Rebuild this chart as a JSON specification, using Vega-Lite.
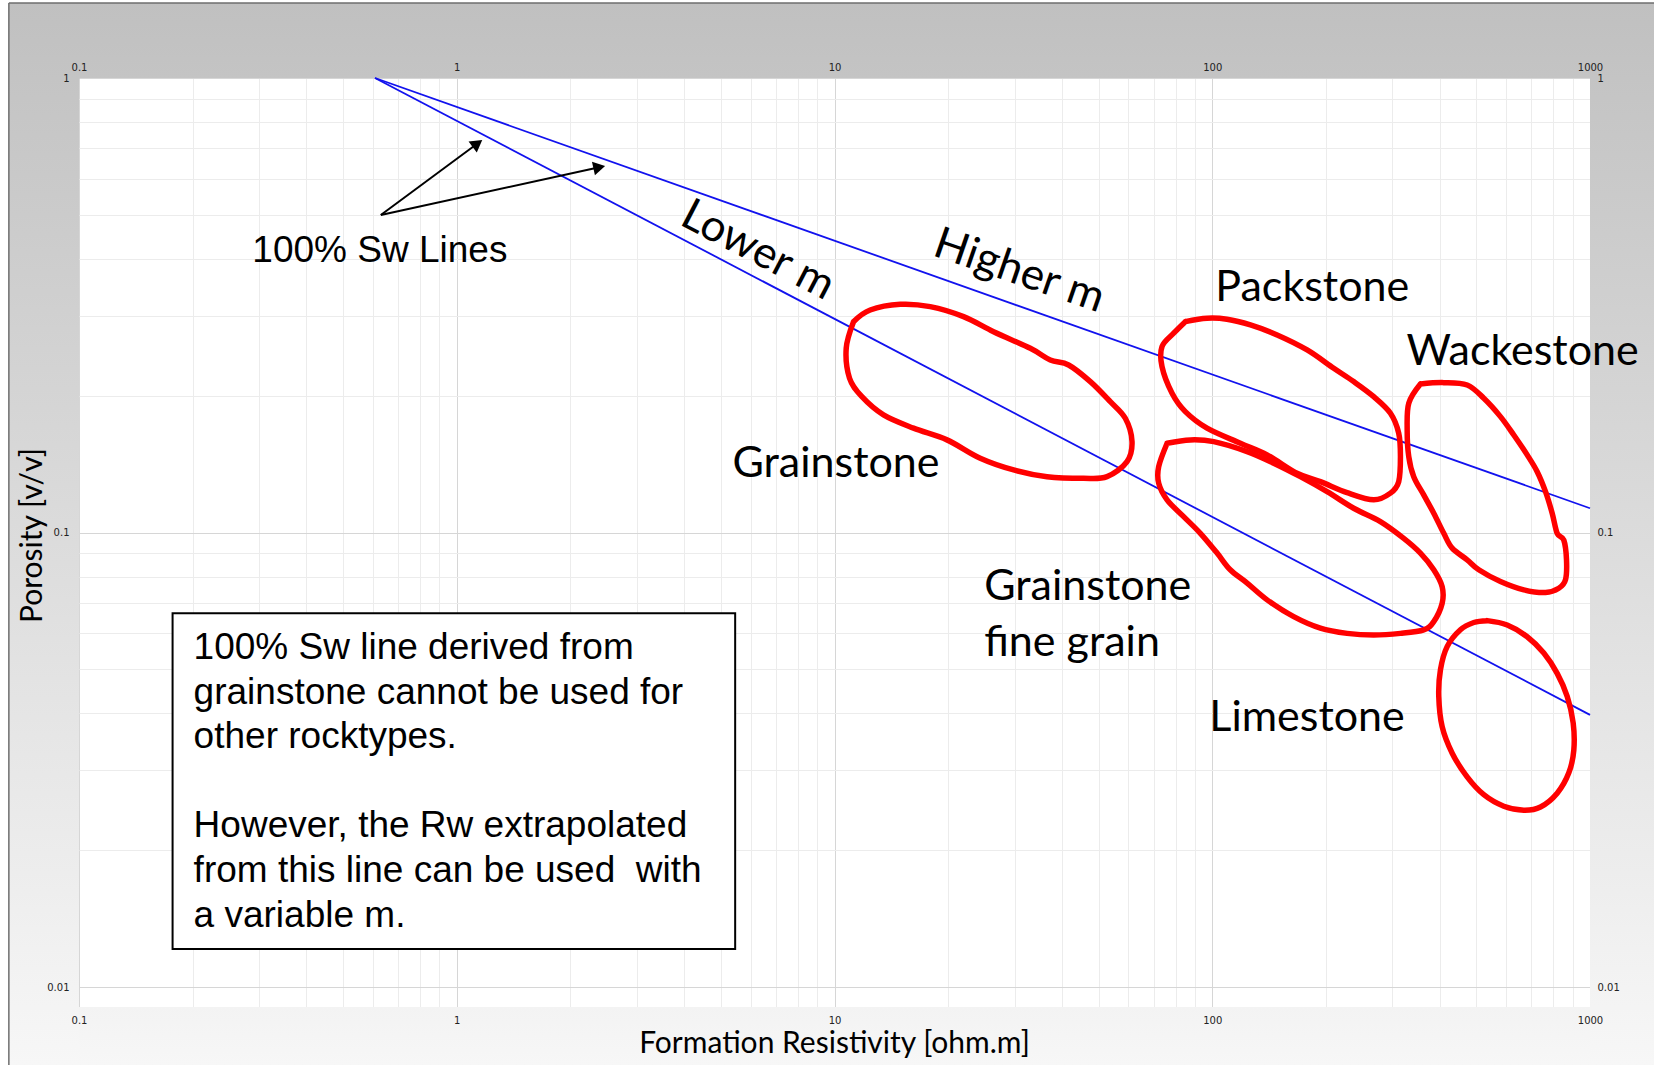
{
  "$schema": "https://vega.github.io/schema/vega-lite/v6.json",
  "width": 1511,
  "height": 929,
  "autosize": {"type": "none"},
  "padding": {"left": 79, "top": 78, "right": 64, "bottom": 58},
  "background": "#ffffff",
  "config": {"view": {"stroke": "#7f7f7f", "strokeWidth": 1, "fill": "white"}},
  "datasets": {
    "frame": [{"part": "frame"}],
    "swlines": [
      {"line": "lower", "r": 0.6075, "phi": 1},
      {"line": "lower", "r": 1000, "phi": 0.0397},
      {"line": "higher", "r": 0.6075, "phi": 1},
      {"line": "higher", "r": 1000, "phi": 0.1131}
    ],
    "curves": [
      {"shape": "G", "i": 1, "r": 11.23, "phi": 0.2910},
      {"shape": "G", "i": 2, "r": 12.43, "phi": 0.3088},
      {"shape": "G", "i": 3, "r": 14.93, "phi": 0.3178},
      {"shape": "G", "i": 4, "r": 17.92, "phi": 0.3140},
      {"shape": "G", "i": 5, "r": 21.96, "phi": 0.2985},
      {"shape": "G", "i": 6, "r": 26.37, "phi": 0.2766},
      {"shape": "G", "i": 7, "r": 32.99, "phi": 0.2543},
      {"shape": "G", "i": 8, "r": 37.26, "phi": 0.2397},
      {"shape": "G", "i": 9, "r": 41.66, "phi": 0.2337},
      {"shape": "G", "i": 10, "r": 47.56, "phi": 0.2148},
      {"shape": "G", "i": 11, "r": 53.72, "phi": 0.1941},
      {"shape": "G", "i": 12, "r": 58.87, "phi": 0.1784},
      {"shape": "G", "i": 13, "r": 61.32, "phi": 0.1585},
      {"shape": "G", "i": 14, "r": 59.48, "phi": 0.1432},
      {"shape": "G", "i": 15, "r": 52.65, "phi": 0.1327},
      {"shape": "G", "i": 16, "r": 45.64, "phi": 0.1316},
      {"shape": "G", "i": 17, "r": 36.52, "phi": 0.1327},
      {"shape": "G", "i": 18, "r": 29.80, "phi": 0.1373},
      {"shape": "G", "i": 19, "r": 24.31, "phi": 0.1457},
      {"shape": "G", "i": 20, "r": 19.85, "phi": 0.1599},
      {"shape": "G", "i": 21, "r": 16.19, "phi": 0.1697},
      {"shape": "G", "i": 22, "r": 13.48, "phi": 0.1815},
      {"shape": "G", "i": 23, "r": 11.82, "phi": 0.1990},
      {"shape": "G", "i": 24, "r": 10.96, "phi": 0.2185},
      {"shape": "G", "i": 25, "r": 10.74, "phi": 0.2543},
      {"shape": "G", "i": 26, "r": 11.23, "phi": 0.2910},
      {"shape": "P", "i": 1, "r": 84.87, "phi": 0.2910},
      {"shape": "P", "i": 2, "r": 96.87, "phi": 0.2961},
      {"shape": "P", "i": 3, "r": 109.4, "phi": 0.2946},
      {"shape": "P", "i": 4, "r": 126.2, "phi": 0.2862},
      {"shape": "P", "i": 5, "r": 148.5, "phi": 0.2721},
      {"shape": "P", "i": 6, "r": 178.3, "phi": 0.2522},
      {"shape": "P", "i": 7, "r": 209.7, "phi": 0.2298},
      {"shape": "P", "i": 8, "r": 236.8, "phi": 0.2148},
      {"shape": "P", "i": 9, "r": 267.6, "phi": 0.1990},
      {"shape": "P", "i": 10, "r": 296.3, "phi": 0.1830},
      {"shape": "P", "i": 11, "r": 311.6, "phi": 0.1654},
      {"shape": "P", "i": 12, "r": 314.9, "phi": 0.1469},
      {"shape": "P", "i": 13, "r": 311.6, "phi": 0.1294},
      {"shape": "P", "i": 14, "r": 296.3, "phi": 0.1221},
      {"shape": "P", "i": 15, "r": 267.6, "phi": 0.1180},
      {"shape": "P", "i": 16, "r": 227.5, "phi": 0.1224},
      {"shape": "P", "i": 17, "r": 193.3, "phi": 0.1294},
      {"shape": "P", "i": 18, "r": 167.7, "phi": 0.1350},
      {"shape": "P", "i": 19, "r": 139.7, "phi": 0.1482},
      {"shape": "P", "i": 20, "r": 118.7, "phi": 0.1572},
      {"shape": "P", "i": 21, "r": 96.87, "phi": 0.1697},
      {"shape": "P", "i": 22, "r": 84.87, "phi": 0.1845},
      {"shape": "P", "i": 23, "r": 78.27, "phi": 0.2025},
      {"shape": "P", "i": 24, "r": 73.62, "phi": 0.2317},
      {"shape": "P", "i": 25, "r": 73.62, "phi": 0.2564},
      {"shape": "P", "i": 26, "r": 79.05, "phi": 0.2745},
      {"shape": "P", "i": 27, "r": 84.87, "phi": 0.2910},
      {"shape": "F", "i": 1, "r": 75.93, "phi": 0.1572},
      {"shape": "F", "i": 2, "r": 87.50, "phi": 0.1599},
      {"shape": "F", "i": 3, "r": 100.9, "phi": 0.1585},
      {"shape": "F", "i": 4, "r": 123.7, "phi": 0.1507},
      {"shape": "F", "i": 5, "r": 145.4, "phi": 0.1421},
      {"shape": "F", "i": 6, "r": 171.1, "phi": 0.1327},
      {"shape": "F", "i": 7, "r": 201.4, "phi": 0.1230},
      {"shape": "F", "i": 8, "r": 236.8, "phi": 0.1131},
      {"shape": "F", "i": 9, "r": 278.7, "phi": 0.1057},
      {"shape": "F", "i": 10, "r": 321.3, "phi": 0.0971},
      {"shape": "F", "i": 11, "r": 355.7, "phi": 0.0901},
      {"shape": "F", "i": 12, "r": 385.8, "phi": 0.0828},
      {"shape": "F", "i": 13, "r": 406.1, "phi": 0.0760},
      {"shape": "F", "i": 14, "r": 406.1, "phi": 0.0699},
      {"shape": "F", "i": 15, "r": 385.8, "phi": 0.0637},
      {"shape": "F", "i": 16, "r": 362.9, "phi": 0.0611},
      {"shape": "F", "i": 17, "r": 314.9, "phi": 0.0600},
      {"shape": "F", "i": 18, "r": 267.6, "phi": 0.0595},
      {"shape": "F", "i": 19, "r": 227.5, "phi": 0.0600},
      {"shape": "F", "i": 20, "r": 193.3, "phi": 0.0616},
      {"shape": "F", "i": 21, "r": 164.3, "phi": 0.0653},
      {"shape": "F", "i": 22, "r": 139.7, "phi": 0.0711},
      {"shape": "F", "i": 23, "r": 123.7, "phi": 0.0774},
      {"shape": "F", "i": 24, "r": 111.6, "phi": 0.0828},
      {"shape": "F", "i": 25, "r": 103.0, "phi": 0.0901},
      {"shape": "F", "i": 26, "r": 93.01, "phi": 0.0996},
      {"shape": "F", "i": 27, "r": 84.00, "phi": 0.1084},
      {"shape": "F", "i": 28, "r": 75.93, "phi": 0.1180},
      {"shape": "F", "i": 29, "r": 72.14, "phi": 0.1284},
      {"shape": "F", "i": 30, "r": 72.14, "phi": 0.1396},
      {"shape": "F", "i": 31, "r": 75.93, "phi": 0.1572},
      {"shape": "W", "i": 1, "r": 355.7, "phi": 0.2123},
      {"shape": "W", "i": 2, "r": 410.1, "phi": 0.2137},
      {"shape": "W", "i": 3, "r": 472.9, "phi": 0.2112},
      {"shape": "W", "i": 4, "r": 523.4, "phi": 0.1974},
      {"shape": "W", "i": 5, "r": 579.4, "phi": 0.1799},
      {"shape": "W", "i": 6, "r": 628.4, "phi": 0.1639},
      {"shape": "W", "i": 7, "r": 681.9, "phi": 0.1482},
      {"shape": "W", "i": 8, "r": 724.8, "phi": 0.1361},
      {"shape": "W", "i": 9, "r": 762.5, "phi": 0.1230},
      {"shape": "W", "i": 10, "r": 794.1, "phi": 0.1103},
      {"shape": "W", "i": 11, "r": 818.7, "phi": 0.0996},
      {"shape": "W", "i": 12, "r": 852.3, "phi": 0.0963},
      {"shape": "W", "i": 13, "r": 866.6, "phi": 0.0871},
      {"shape": "W", "i": 14, "r": 861.2, "phi": 0.0787},
      {"shape": "W", "i": 15, "r": 826.8, "phi": 0.0754},
      {"shape": "W", "i": 16, "r": 762.5, "phi": 0.0738},
      {"shape": "W", "i": 17, "r": 667.9, "phi": 0.0748},
      {"shape": "W", "i": 18, "r": 579.4, "phi": 0.0780},
      {"shape": "W", "i": 19, "r": 507.6, "phi": 0.0828},
      {"shape": "W", "i": 20, "r": 472.9, "phi": 0.0871},
      {"shape": "W", "i": 21, "r": 431.7, "phi": 0.0924},
      {"shape": "W", "i": 22, "r": 410.1, "phi": 0.0996},
      {"shape": "W", "i": 23, "r": 385.8, "phi": 0.1103},
      {"shape": "W", "i": 24, "r": 362.9, "phi": 0.1210},
      {"shape": "W", "i": 25, "r": 341.5, "phi": 0.1327},
      {"shape": "W", "i": 26, "r": 331.3, "phi": 0.1469},
      {"shape": "W", "i": 27, "r": 328.1, "phi": 0.1680},
      {"shape": "W", "i": 28, "r": 331.3, "phi": 0.1926},
      {"shape": "W", "i": 29, "r": 355.7, "phi": 0.2123},
      {"shape": "L", "i": 1, "r": 534.3, "phi": 0.0640},
      {"shape": "L", "i": 2, "r": 603.6, "phi": 0.0626},
      {"shape": "L", "i": 3, "r": 681.9, "phi": 0.0590},
      {"shape": "L", "i": 4, "r": 754.6, "phi": 0.0543},
      {"shape": "L", "i": 5, "r": 818.7, "phi": 0.0490},
      {"shape": "L", "i": 6, "r": 870.2, "phi": 0.0436},
      {"shape": "L", "i": 7, "r": 902.6, "phi": 0.0381},
      {"shape": "L", "i": 8, "r": 906.0, "phi": 0.0332},
      {"shape": "L", "i": 9, "r": 878.9, "phi": 0.0296},
      {"shape": "L", "i": 10, "r": 818.7, "phi": 0.0267},
      {"shape": "L", "i": 11, "r": 739.5, "phi": 0.0249},
      {"shape": "L", "i": 12, "r": 667.9, "phi": 0.0245},
      {"shape": "L", "i": 13, "r": 591.2, "phi": 0.0250},
      {"shape": "L", "i": 14, "r": 523.4, "phi": 0.0265},
      {"shape": "L", "i": 15, "r": 472.9, "phi": 0.0290},
      {"shape": "L", "i": 16, "r": 431.7, "phi": 0.0327},
      {"shape": "L", "i": 17, "r": 406.1, "phi": 0.0374},
      {"shape": "L", "i": 18, "r": 397.8, "phi": 0.0436},
      {"shape": "L", "i": 19, "r": 401.9, "phi": 0.0499},
      {"shape": "L", "i": 20, "r": 418.6, "phi": 0.0561},
      {"shape": "L", "i": 21, "r": 453.9, "phi": 0.0611},
      {"shape": "L", "i": 22, "r": 492.5, "phi": 0.0634},
      {"shape": "L", "i": 23, "r": 534.3, "phi": 0.0640}
    ],
    "arrows": [
      {"id": 1, "r": 0.6295, "phi": 0.4997, "r2": 1.1345, "phi2": 0.7177},
      {"id": 2, "r": 0.6295, "phi": 0.4997, "r2": 2.384, "phi2": 0.6364}
    ],
    "labels": [
      {"text": "Grainstone", "r": 5.370, "phi": 0.1323},
      {"text": "Packstone", "r": 101.9, "phi": 0.3238},
      {"text": "Wackestone", "r": 326.6, "phi": 0.2337},
      {"text": "Grainstone", "r": 24.91, "phi": 0.07107},
      {"text": "fine grain", "r": 24.91, "phi": 0.05352},
      {"text": "Limestone", "r": 98.24, "phi": 0.03661}
    ],
    "slopes": [
      {"text": "Lower m", "r": 3.856, "phi": 0.4774},
      {"text": "Higher m", "r": 18.03, "phi": 0.4080}
    ],
    "swlabel": [
      {"text": "100% Sw Lines", "r": 0.2877, "phi": 0.3944}
    ],
    "box": [
      {"r": 0.1769, "r2": 5.458, "phi": 0.01213, "phi2": 0.06646}
    ],
    "note": [
      {"r": 0.2011, "phi": 0.05264, "lines": ["100% Sw line derived from", "grainstone cannot be used for", "other rocktypes."]},
      {"r": 0.2011, "phi": 0.02134, "lines": ["However, the Rw extrapolated", "from this line can be used\u00a0 with", "a variable m."]}
    ]
  },
  "resolve": {"axis": {"x": "independent", "y": "independent"}},
  "layer": [
    {
      "data": {"name": "frame"},
      "mark": {"type": "rect", "fill": {"gradient": "linear", "x1": 0, "y1": 0, "x2": 0, "y2": 1, "stops": [{"offset": 0, "color": "#c0c0c0"}, {"offset": 1, "color": "#c4c4c4"}]}},
      "encoding": {
        "x": {"datum": 0.06521, "type": "quantitative", "scale": {"type": "log", "domain": [0.1, 1000], "nice": false}, "axis": null},
        "x2": {"datum": 1600},
        "y": {"datum": 1.4622, "type": "quantitative", "scale": {"type": "log", "domain": [0.00904, 1], "nice": false}, "axis": null},
        "y2": {"datum": 1}
      }
    },
    {
      "data": {"name": "frame"},
      "mark": {"type": "rect", "fill": {"gradient": "linear", "x1": 0, "y1": 0, "x2": 0, "y2": 1, "stops": [{"offset": 0, "color": "#c4c4c4"}, {"offset": 1, "color": "#f7f7f7"}]}},
      "encoding": {
        "x": {"datum": 0.06521, "type": "quantitative", "scale": {"type": "log", "domain": [0.1, 1000], "nice": false}, "axis": null},
        "x2": {"datum": 0.1},
        "y": {"datum": 1, "type": "quantitative", "scale": {"type": "log", "domain": [0.00904, 1], "nice": false}, "axis": null},
        "y2": {"datum": 0.00674}
      }
    },
    {
      "data": {"name": "frame"},
      "mark": {"type": "rect", "fill": {"gradient": "linear", "x1": 0, "y1": 0, "x2": 0, "y2": 1, "stops": [{"offset": 0, "color": "#c4c4c4"}, {"offset": 1, "color": "#f7f7f7"}]}},
      "encoding": {
        "x": {"datum": 1000, "type": "quantitative", "scale": {"type": "log", "domain": [0.1, 1000], "nice": false}, "axis": null},
        "x2": {"datum": 1600},
        "y": {"datum": 1, "type": "quantitative", "scale": {"type": "log", "domain": [0.00904, 1], "nice": false}, "axis": null},
        "y2": {"datum": 0.00674}
      }
    },
    {
      "data": {"name": "frame"},
      "mark": {"type": "rect", "fill": {"gradient": "linear", "x1": 0, "y1": 0, "x2": 0, "y2": 1, "stops": [{"offset": 0, "color": "#f3f3f3"}, {"offset": 1, "color": "#f7f7f7"}]}},
      "encoding": {
        "x": {"datum": 0.1, "type": "quantitative", "scale": {"type": "log", "domain": [0.1, 1000], "nice": false}, "axis": null},
        "x2": {"datum": 1000},
        "y": {"datum": 0.00904, "type": "quantitative", "scale": {"type": "log", "domain": [0.00904, 1], "nice": false}, "axis": null},
        "y2": {"datum": 0.00674}
      }
    },
    {
      "data": {"name": "frame"},
      "mark": {"type": "rule", "color": "#6e6e6e", "strokeWidth": 1.5},
      "encoding": {
        "x": {"datum": 0.06521, "type": "quantitative", "scale": {"type": "log", "domain": [0.1, 1000], "nice": false}, "axis": null},
        "x2": {"datum": 1600},
        "y": {"datum": 1.4622, "type": "quantitative", "scale": {"type": "log", "domain": [0.00904, 1], "nice": false}, "axis": null}
      }
    },
    {
      "data": {"name": "frame"},
      "mark": {"type": "rule", "color": "#6e6e6e", "strokeWidth": 1.5},
      "encoding": {
        "x": {"datum": 0.06521, "type": "quantitative", "scale": {"type": "log", "domain": [0.1, 1000], "nice": false}, "axis": null},
        "y": {"datum": 1.4622, "type": "quantitative", "scale": {"type": "log", "domain": [0.00904, 1], "nice": false}, "axis": null},
        "y2": {"datum": 0.00674}
      }
    },
    {
      "data": {"name": "swlines"},
      "mark": {"type": "line", "color": "#1212ee", "strokeWidth": 1.8},
      "encoding": {
        "x": {"field": "r", "type": "quantitative",
          "scale": {"type": "log", "domain": [0.1, 1000], "nice": false},
          "axis": {"orient": "bottom",
            "values": [0.1,0.2,0.3,0.4,0.5,0.6,0.7,0.8,0.9,1,2,3,4,5,6,7,8,9,10,20,30,40,50,60,70,80,90,100,200,300,400,500,600,700,800,900,1000],
            "grid": true,
            "gridColor": {"condition": {"test": "abs(log(datum.value)/LN10 - round(log(datum.value)/LN10)) < 0.000001", "value": "#d6d6d6"}, "value": "#ececec"},
            "labels": false, "ticks": false, "tickSize": 0, "domain": false, "title": null, "zindex": 0}},
        "y": {"field": "phi", "type": "quantitative",
          "scale": {"type": "log", "domain": [0.00904, 1], "nice": false},
          "axis": {"orient": "left",
            "values": [0.01,0.02,0.03,0.04,0.05,0.06,0.07,0.08,0.09,0.1,0.2,0.3,0.4,0.5,0.6,0.7,0.8,0.9,1],
            "grid": true,
            "gridColor": {"condition": {"test": "abs(log(datum.value)/LN10 - round(log(datum.value)/LN10)) < 0.000001", "value": "#d6d6d6"}, "value": "#ececec"},
            "labels": false, "ticks": false, "tickSize": 0, "domain": false, "title": null, "zindex": 0}},
        "detail": {"field": "line", "type": "nominal"}
      }
    },
    {
      "data": {"name": "curves"},
      "mark": {"type": "line", "color": "#ff0000", "strokeWidth": 5.5, "strokeJoin": "round", "strokeCap": "round", "interpolate": "cardinal"},
      "encoding": {
        "x": {"field": "r", "type": "quantitative",
          "scale": {"type": "log", "domain": [0.1, 1000], "nice": false},
          "axis": {"orient": "top", "values": [0.1, 1, 10, 100, 1000], "format": "~g", "grid": false,
            "ticks": false, "tickSize": 0, "domain": false,
            "labelFont": "DejaVu Sans", "labelFontSize": 10, "labelColor": "#222222", "labelPadding": 6,
            "labelFlush": false, "labelOverlap": false, "labelBound": false, "title": null, "zindex": 1}},
        "y": {"field": "phi", "type": "quantitative",
          "scale": {"type": "log", "domain": [0.00904, 1], "nice": false},
          "axis": {"orient": "right", "values": [0.01, 0.1, 1], "format": "~g", "grid": false,
            "ticks": false, "tickSize": 0, "domain": false,
            "labelFont": "DejaVu Sans", "labelFontSize": 10, "labelColor": "#222222", "labelPadding": 7,
            "labelFlush": false, "labelOverlap": false, "labelBound": false, "title": null, "zindex": 1}},
        "detail": {"field": "shape", "type": "nominal"},
        "order": {"field": "i", "type": "quantitative"}
      }
    },
    {
      "data": {"name": "arrows"},
      "mark": {"type": "rule", "color": "#000000", "strokeWidth": 2},
      "encoding": {
        "x": {"field": "r", "type": "quantitative", "scale": {"type": "log", "domain": [0.1, 1000], "nice": false},
          "axis": {"orient": "bottom", "values": [0.1, 1, 10, 100, 1000], "format": "~g", "grid": false,
            "ticks": false, "tickSize": 0, "domain": false,
            "labelFont": "DejaVu Sans", "labelFontSize": 10, "labelColor": "#222222", "labelPadding": 8,
            "labelFlush": false, "labelOverlap": false, "labelBound": false,
            "title": "Formation Resistivity [ohm.m]", "titleFont": "Lato", "titleFontSize": 30, "titleFontWeight": "normal", "titleColor": "#000000",
            "titleX": 755, "titleY": 45, "titleBaseline": "alphabetic", "titleAlign": "center", "zindex": 1}},
        "y": {"field": "phi", "type": "quantitative", "scale": {"type": "log", "domain": [0.00904, 1], "nice": false},
          "axis": {"orient": "left", "values": [0.01, 0.1, 1], "format": "~g", "grid": false,
            "ticks": false, "tickSize": 0, "domain": false,
            "labelFont": "DejaVu Sans", "labelFontSize": 10, "labelColor": "#222222", "labelPadding": 10,
            "labelFlush": false, "labelOverlap": false, "labelBound": false,
            "title": "Porosity [v/v]", "titleFont": "Lato", "titleFontSize": 30, "titleFontWeight": "normal", "titleColor": "#000000",
            "titleX": -38, "titleY": 457, "titleAngle": -90, "titleBaseline": "alphabetic", "titleAlign": "center", "zindex": 1}},
        "x2": {"field": "r2"},
        "y2": {"field": "phi2"}
      }
    },
    {
      "data": {"name": "arrows"},
      "transform": [{"filter": "datum.id == 1"}],
      "mark": {"type": "point", "shape": "triangle-up", "filled": true, "color": "#000000", "opacity": 1, "size": 190, "angle": 53.5},
      "encoding": {
        "x": {"field": "r2", "type": "quantitative", "scale": {"type": "log", "domain": [0.1, 1000], "nice": false}, "axis": null},
        "y": {"field": "phi2", "type": "quantitative", "scale": {"type": "log", "domain": [0.00904, 1], "nice": false}, "axis": null}
      }
    },
    {
      "data": {"name": "arrows"},
      "transform": [{"filter": "datum.id == 2"}],
      "mark": {"type": "point", "shape": "triangle-up", "filled": true, "color": "#000000", "opacity": 1, "size": 190, "angle": 77.6},
      "encoding": {
        "x": {"field": "r2", "type": "quantitative", "scale": {"type": "log", "domain": [0.1, 1000], "nice": false}, "axis": null},
        "y": {"field": "phi2", "type": "quantitative", "scale": {"type": "log", "domain": [0.00904, 1], "nice": false}, "axis": null}
      }
    },
    {
      "data": {"name": "swlabel"},
      "mark": {"type": "text", "font": "Liberation Sans", "fontSize": 37, "align": "left", "baseline": "alphabetic", "color": "#000000"},
      "encoding": {
        "x": {"field": "r", "type": "quantitative", "scale": {"type": "log", "domain": [0.1, 1000], "nice": false}, "axis": null},
        "y": {"field": "phi", "type": "quantitative", "scale": {"type": "log", "domain": [0.00904, 1], "nice": false}, "axis": null},
        "text": {"field": "text", "type": "nominal"}
      }
    },
    {
      "data": {"name": "labels"},
      "mark": {"type": "text", "font": "Lato", "fontSize": 43, "align": "left", "baseline": "alphabetic", "color": "#000000"},
      "encoding": {
        "x": {"field": "r", "type": "quantitative", "scale": {"type": "log", "domain": [0.1, 1000], "nice": false}, "axis": null},
        "y": {"field": "phi", "type": "quantitative", "scale": {"type": "log", "domain": [0.00904, 1], "nice": false}, "axis": null},
        "text": {"field": "text", "type": "nominal"}
      }
    },
    {
      "data": {"name": "slopes"},
      "transform": [{"filter": "datum.text == 'Lower m'"}],
      "mark": {"type": "text", "font": "Lato", "fontSize": 44, "align": "left", "baseline": "alphabetic", "color": "#000000", "angle": 27.5},
      "encoding": {
        "x": {"field": "r", "type": "quantitative", "scale": {"type": "log", "domain": [0.1, 1000], "nice": false}, "axis": null},
        "y": {"field": "phi", "type": "quantitative", "scale": {"type": "log", "domain": [0.00904, 1], "nice": false}, "axis": null},
        "text": {"field": "text", "type": "nominal"}
      }
    },
    {
      "data": {"name": "slopes"},
      "transform": [{"filter": "datum.text == 'Higher m'"}],
      "mark": {"type": "text", "font": "Lato", "fontSize": 44, "align": "left", "baseline": "alphabetic", "color": "#000000", "angle": 19},
      "encoding": {
        "x": {"field": "r", "type": "quantitative", "scale": {"type": "log", "domain": [0.1, 1000], "nice": false}, "axis": null},
        "y": {"field": "phi", "type": "quantitative", "scale": {"type": "log", "domain": [0.00904, 1], "nice": false}, "axis": null},
        "text": {"field": "text", "type": "nominal"}
      }
    },
    {
      "data": {"name": "box"},
      "mark": {"type": "rect", "fill": "#ffffff", "stroke": "#000000", "strokeWidth": 2},
      "encoding": {
        "x": {"field": "r", "type": "quantitative", "scale": {"type": "log", "domain": [0.1, 1000], "nice": false}, "axis": null},
        "x2": {"field": "r2"},
        "y": {"field": "phi", "type": "quantitative", "scale": {"type": "log", "domain": [0.00904, 1], "nice": false}, "axis": null},
        "y2": {"field": "phi2"}
      }
    },
    {
      "data": {"name": "note"},
      "mark": {"type": "text", "font": "Liberation Sans", "fontSize": 37, "align": "left", "baseline": "alphabetic", "lineHeight": 44.6, "color": "#000000"},
      "encoding": {
        "x": {"field": "r", "type": "quantitative", "scale": {"type": "log", "domain": [0.1, 1000], "nice": false}, "axis": null},
        "y": {"field": "phi", "type": "quantitative", "scale": {"type": "log", "domain": [0.00904, 1], "nice": false}, "axis": null},
        "text": {"field": "lines", "type": "nominal"}
      }
    }
  ]
}
